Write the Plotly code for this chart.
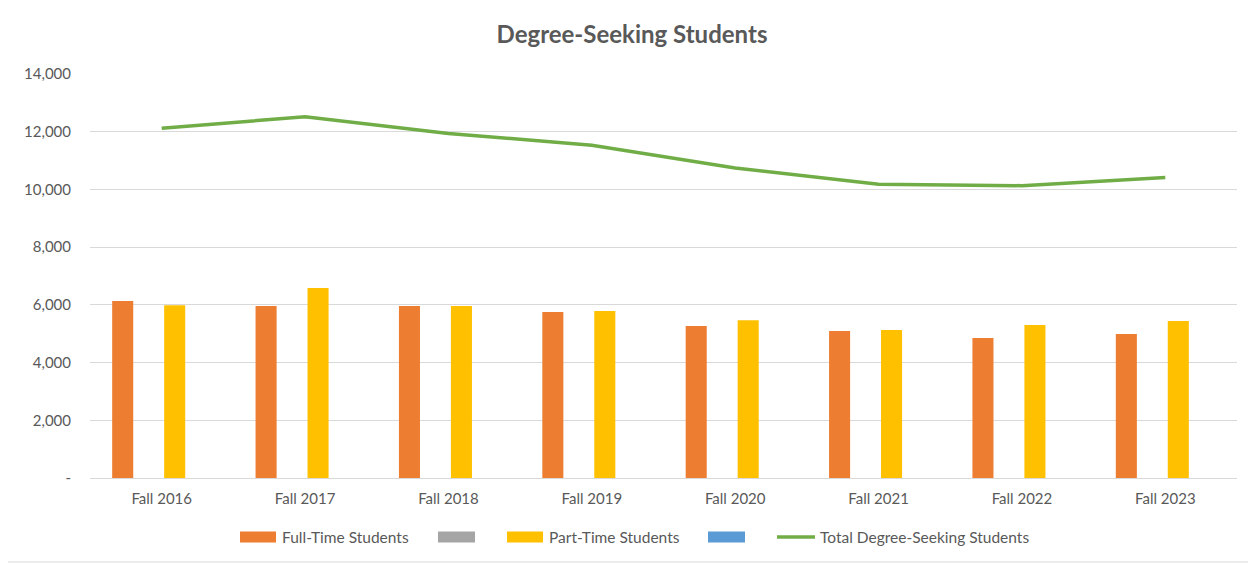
import plotly.graph_objects as go

categories = ["Fall 2016", "Fall 2017", "Fall 2018", "Fall 2019",
              "Fall 2020", "Fall 2021", "Fall 2022", "Fall 2023"]
full_time = [6130, 5960, 5960, 5750, 5270, 5090, 4850, 4990]
part_time = [5990, 6580, 5960, 5790, 5470, 5130, 5300, 5440]
empty_series = [None] * 8
total = [12120, 12520, 11940, 11530, 10740, 10180, 10130, 10410]
y_ticks = [0, 2000, 4000, 6000, 8000, 10000, 12000, 14000]
y_tick_text = ["-", "2,000", "4,000", "6,000", "8,000", "10,000", "12,000", "14,000"]
legend_names = ["Full-Time Students", "", "Part-Time Students", "",
                "Total Degree-Seeking Students"]
colors = ["#ed7d31", "#a5a5a5", "#ffc000", "#5b9bd5", "#70ad47"]

# page body has an 8px margin; compensate so the plot area lands where the reference has it
OFF = 8
PAGE_W, PAGE_H = 1256, 565
PLOT_L, PLOT_R, PLOT_T, PLOT_B = 90, 1237, 74, 478   # page pixel coords of plot area
W, H = PAGE_W - OFF, PAGE_H - OFF
L, T = PLOT_L - OFF, PLOT_T - OFF
R, B = PAGE_W - PLOT_R, PAGE_H - PLOT_B
pw, ph = PLOT_R - PLOT_L, PLOT_B - PLOT_T

def px_x(x):
    return (x - PLOT_L) / pw

def px_y(y):
    return (PLOT_B - y) / ph

FONT = "Lato, 'Open Sans', sans-serif"
GREY_TXT = "#595959"

fig = go.Figure()
fig.add_trace(go.Bar(x=categories, y=full_time, name=legend_names[0],
                     marker=dict(color=colors[0], line=dict(width=0))))
fig.add_trace(go.Bar(x=categories, y=empty_series, name=legend_names[1],
                     marker=dict(color=colors[1], line=dict(width=0))))
fig.add_trace(go.Bar(x=categories, y=part_time, name=legend_names[2],
                     marker=dict(color=colors[2], line=dict(width=0))))
fig.add_trace(go.Bar(x=categories, y=empty_series, name=legend_names[3],
                     marker=dict(color=colors[3], line=dict(width=0))))
fig.add_trace(go.Scatter(x=categories, y=total, name=legend_names[4],
                         mode="lines", line=dict(color=colors[4], width=3.5)))

# custom legend (wide Excel-style swatches)
shapes = [dict(type="rect", xref="paper", yref="paper",
               x0=px_x(7), x1=px_x(1250), y0=px_y(562), y1=px_y(1),
               line=dict(color="#d9d9d9", width=1), fillcolor="rgba(0,0,0,0)",
               layer="below")]
annotations = []
swatch_x = [(240, 276), (438, 475), (507, 543), (708, 745), (777, 815)]
text_x = [280, None, 547, None, 818]
LEG_Y = 537
for i, (x0, x1) in enumerate(swatch_x):
    if i < 4:
        shapes.append(dict(type="rect", xref="paper", yref="paper",
                           x0=px_x(x0), x1=px_x(x1),
                           y0=px_y(LEG_Y + 5.5), y1=px_y(LEG_Y - 5.5),
                           line=dict(width=0), fillcolor=colors[i]))
    else:
        shapes.append(dict(type="line", xref="paper", yref="paper",
                           x0=px_x(x0), x1=px_x(x1), y0=px_y(LEG_Y), y1=px_y(LEG_Y),
                           line=dict(color=colors[i], width=3.5)))
    if text_x[i] is not None:
        annotations.append(dict(text=legend_names[i], xref="paper", yref="paper",
                                x=px_x(text_x[i]), y=px_y(LEG_Y), xanchor="left",
                                yanchor="middle", showarrow=False,
                                font=dict(family=FONT, size=15.5, color=GREY_TXT)))

fig.update_layout(
    width=W, height=H,
    margin=dict(l=L, r=R, t=T, b=B, autoexpand=False),
    paper_bgcolor="white", plot_bgcolor="white",
    font=dict(family=FONT, size=15, color=GREY_TXT),
    title=dict(text="<b>Degree-Seeking Students</b>", x=px_x(632), xref="paper",
               xanchor="center", y=1 - (35 - OFF) / H, yanchor="middle",
               font=dict(family=FONT, size=24, color=GREY_TXT)),
    barmode="group", bargap=0.275, bargroupgap=0.19,
    showlegend=False,
    xaxis=dict(showgrid=False, showline=True, linecolor="#d9d9d9", linewidth=1,
               ticks="", ticklabelstandoff=7, tickfont=dict(size=15, color=GREY_TXT)),
    yaxis=dict(range=[0, 14000], tickvals=y_ticks, ticktext=y_tick_text,
               showgrid=True, gridcolor="#d9d9d9", gridwidth=1,
               zeroline=False, showline=False, ticks="",
               ticklabelstandoff=18, tickfont=dict(size=15, color=GREY_TXT)),
    shapes=shapes,
    annotations=annotations,
)

fig.write_html("out.html")
